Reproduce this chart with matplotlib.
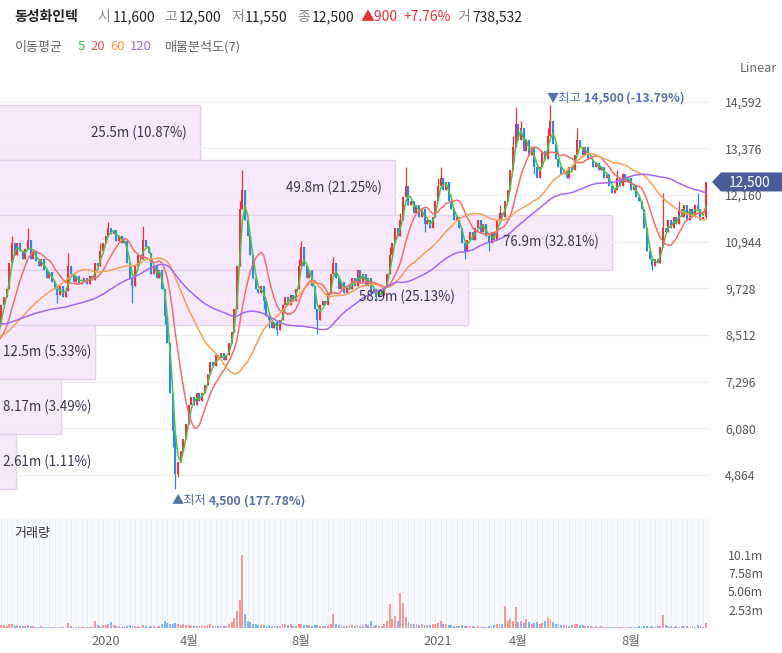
import numpy as np
import pandas as pd
import matplotlib
matplotlib.use('Agg')
import matplotlib.pyplot as plt
from matplotlib.patches import Rectangle, Polygon
import matplotlib.transforms as mtransforms

plt.rcParams['font.family'] = ['Noto Sans CJK KR', 'DejaVu Sans']

# ---------------- data ----------------
stock_name = '동성화인텍'
last_date = '2021-10-27'
krx_holidays = ['2019-01-01', '2019-02-04', '2019-02-05', '2019-02-06', '2019-03-01',
                '2019-05-01', '2019-05-06', '2019-06-06', '2019-08-15', '2019-09-12',
                '2019-09-13', '2019-10-03', '2019-10-09', '2019-12-25', '2019-12-31',
                '2020-01-01', '2020-01-24', '2020-01-27', '2020-04-15', '2020-04-30',
                '2020-05-01', '2020-05-05', '2020-08-17', '2020-09-30', '2020-10-01',
                '2020-10-02', '2020-10-09', '2020-12-25', '2020-12-31', '2021-01-01',
                '2021-02-11', '2021-02-12', '2021-03-01', '2021-05-05', '2021-05-19',
                '2021-08-16', '2021-09-20', '2021-09-21', '2021-09-22', '2021-10-04',
                '2021-10-11']

# closes before the visible window (feed the moving averages)
pre_close = [9400, 9300, 9500, 9200, 9100, 9300, 9400, 9200, 9000, 9100,
             9300, 9200, 9000, 9100, 9200, 9300, 9100, 9000, 9200, 9100,
             9000, 9100, 8900, 9000, 9100, 8900, 9000, 8900, 8800, 8900,
             8800, 8700, 8600, 8700, 8500, 8600, 8400, 8500, 8600, 8500,
             8400, 8600, 8500, 8400, 8500, 8600, 8500, 8400, 8500, 8600,
             8400, 8300, 8200, 8300, 8200, 8300, 8400, 8300, 8500, 8800]

# visible closes (one candle per two trading days)
close = [9300, 9500, 9700, 10400, 10900, 10600, 10900, 10700, 10500, 10750,
         11000, 10500, 10700, 10450, 10300, 10500, 10200, 10000, 10150, 9900,
         9700, 9550, 9800, 9500, 9650, 10300, 10100, 9900, 10050, 9850,
         9900, 10000, 9850, 10050, 9950, 10400, 10300, 10700, 10900, 11100,
         11300, 11150, 11250, 10950, 11100, 10900, 10950, 10400, 10000, 9800,
         10300, 10600, 10500, 11000, 10800, 10650, 10100, 10300, 10000, 10200,
         9700, 9000, 8300, 7000, 6000, 4900, 5200, 5500, 5800, 6200,
         6700, 6900, 6700, 7000, 6800, 7000, 7200, 7500, 7800, 7700,
         8000, 7900, 8050, 7850, 8000, 8300, 8600, 9200, 10300, 11800,
         12300, 11500, 11100, 10600, 10000, 9700, 9600, 9800, 9400, 9000,
         8900, 8700, 8850, 8650, 8900, 9300, 9500, 9300, 9550, 9400,
         9700, 10300, 10800, 10300, 10000, 10200, 9800, 9200, 8900, 9300,
         9400, 9300, 9600, 10100, 10400, 10000, 9700, 9900, 9600, 9800,
         9700, 10000, 9800, 10200, 9900, 10100, 9800, 10000, 9600, 9700,
         9500, 9650, 9550, 9800, 10100, 10600, 10900, 11300, 11100, 11500,
         12100, 12400, 11900, 12000, 11700, 11900, 11600, 11800, 11400, 11500,
         11300, 11600, 12000, 12400, 12600, 12300, 12500, 12000, 11800, 11500,
         11600, 11300, 10900, 10700, 11000, 11200, 11000, 11300, 11500, 11200,
         11400, 11100, 10900, 11200, 11000, 11500, 11700, 11600, 12000, 12300,
         12800, 13400, 14000, 13600, 13900, 13300, 13600, 13200, 13400, 12900,
         12600, 12900, 13300, 13100, 13700, 14100, 13500, 13100, 12900, 12700,
         12800, 12600, 12900, 12800, 13200, 13600, 13400, 13200, 13400, 13100,
         13100, 12900, 13000, 12800, 12900, 12600, 12700, 12400, 12200, 12300,
         12600, 12400, 12700, 12500, 12600, 12300, 12400, 12100, 12000, 11800,
         11300, 10700, 10500, 10300, 10500, 10400, 10800, 11300, 11200, 11500,
         11300, 11600, 11400, 11800, 11600, 11900, 11500, 11800, 11600, 11900,
         11800, 11500, 11600, 12500]

wick_high = {4: 11100, 10: 11300, 25: 10650, 37: 10900, 40: 11450, 53: 11350,
             89: 12000, 90: 12800, 111: 10500, 112: 10950, 124: 10550, 145: 10800,
             149: 11700, 151: 12900, 163: 12600, 164: 12900, 186: 11900,
             191: 13700, 192: 14450, 194: 14100, 204: 13900, 205: 14500,
             215: 13900, 230: 12800, 247: 12200, 253: 12000, 260: 12200}
wick_low = {21: 9350, 49: 9350, 61: 8800, 64: 5600, 65: 4500, 66: 4800, 98: 9200,
            100: 8700, 103: 8500, 118: 8550, 140: 9400, 158: 11200, 173: 10500,
            182: 10700, 199: 12700, 243: 10200, 263: 11550}

# volume in millions of shares
volume_m = [0.45, 0.35, 0.3, 0.6, 0.5, 0.3, 0.4, 0.3, 0.25, 0.3,
            0.4, 0.3, 0.25, 0.2, 0.2, 0.25, 0.2, 0.15, 0.2, 0.15,
            0.15, 0.2, 0.15, 0.2, 0.15, 0.7, 0.3, 0.2, 0.15, 0.2,
            0.15, 0.2, 0.15, 0.2, 0.2, 1.0, 0.4, 0.3, 0.35, 0.4,
            0.5, 0.8, 0.35, 0.3, 0.25, 0.2, 0.25, 0.3, 0.35, 0.3,
            0.25, 0.3, 0.2, 0.4, 0.25, 0.2, 0.3, 0.25, 0.2, 0.3,
            0.5, 1.0, 0.7, 0.6, 0.6, 0.7, 0.5, 0.4, 0.5, 0.35,
            0.4, 0.3, 0.3, 0.25, 0.3, 0.25, 0.3, 0.4, 0.5, 0.3,
            0.35, 0.3, 0.3, 0.25, 0.3, 0.6, 0.8, 1.4, 2.4, 3.9,
            10.1, 2.0, 1.0, 0.8, 0.6, 0.5, 0.4, 0.4, 0.35, 0.3,
            0.35, 0.3, 0.25, 0.3, 0.3, 0.5, 0.6, 0.35, 0.5, 0.3,
            0.3, 0.6, 0.6, 0.4, 0.35, 0.4, 0.3, 0.4, 0.35, 0.3,
            0.25, 0.3, 0.4, 0.6, 1.9, 0.6, 0.4, 0.35, 0.3, 0.25,
            0.3, 0.4, 0.3, 0.35, 0.3, 0.4, 0.5, 0.4, 0.9, 0.3,
            0.35, 0.3, 0.3, 0.5, 1.0, 3.3, 1.2, 1.6, 1.0, 4.8,
            3.4, 1.5, 0.8, 0.6, 0.5, 0.6, 0.4, 0.5, 0.4, 0.35,
            0.4, 0.5, 0.6, 0.7, 0.9, 0.5, 0.6, 0.4, 0.35, 0.3,
            0.3, 0.3, 0.35, 0.3, 0.25, 0.3, 0.25, 0.2, 0.25, 0.2,
            0.25, 0.2, 0.3, 0.25, 0.4, 0.5, 0.6, 0.5, 3.1, 1.0,
            1.3, 0.9, 2.9, 0.8, 1.0, 0.7, 1.3, 0.8, 0.6, 0.7,
            0.8, 0.6, 0.7, 0.9, 1.4, 1.2, 0.8, 0.6, 0.5, 0.45,
            0.4, 0.35, 0.3, 0.4, 0.5, 0.6, 0.4, 0.35, 0.3, 0.25,
            0.25, 0.2, 0.25, 0.2, 0.25, 0.2, 0.2, 0.15, 0.2, 0.15,
            0.2, 0.15, 0.2, 0.15, 0.15, 0.2, 0.15, 0.2, 0.25, 0.2,
            0.3, 0.25, 0.2, 0.25, 0.2, 0.25, 0.3, 1.8, 0.4, 0.3,
            0.25, 0.2, 0.25, 0.2, 0.3, 0.25, 0.3, 0.2, 0.25, 0.2,
            0.35, 0.25, 0.2, 0.738532]

ma_periods = [5, 20, 60, 120]
vp_volume_m = [25.5, 49.8, 76.9, 58.9, 12.5, 8.17, 2.61]     # top bin -> bottom bin
vp_percent = [10.87, 21.25, 32.81, 25.13, 5.33, 3.49, 1.11]
price_ticks = [4864, 6080, 7296, 8512, 9728, 10944, 12160, 13376, 14592]
volume_ticks_m = [2.53, 5.06, 7.58, 10.1]
month_ticks = ['2020-01', '2020-04', '2020-08', '2021-01', '2021-04', '2021-08']
month_labels = ['2020', '4월', '8월', '2021', '4월', '8월']

# ---------------- styles ----------------
UP = '#f0323c'
DOWN = '#2b8ae6'
VOL_UP = '#f49a9a'
VOL_DOWN = '#7fb6f0'
MA_COLORS = ['#4cc24c', '#f26d6d', '#f5a055', '#a668f2']
MA_LABEL_COLORS = ['#3cb43c', '#f0505a', '#f59a40', '#9c6cf0']
BOX_FACE = '#f7e9fb'
BOX_EDGE = '#e4d0ec'
TAG_BLUE = '#4a5d98'
ANNOT = '#5670a8'

W, H = 782, 653
fig = plt.figure(figsize=(W / 100, H / 100), dpi=100)

def fx(px):
    return px / W

def fy(py):
    return 1 - py / H

PLOT_R = 710
ax = fig.add_axes([0, fy(510), fx(PLOT_R), (510 - 80) / H])
axv = fig.add_axes([0, fy(628), fx(PLOT_R), (628 - 518) / H], sharex=ax)

n_pre = len(pre_close)
n = len(close)
assert len(volume_m) == n
all_close = np.array(pre_close + close, dtype=float)
all_idx = np.arange(len(all_close)) - n_pre

# trading calendar: one candle per two trading days, ending on last_date
days = pd.bdate_range(end=last_date, periods=2 * len(all_close), freq='C', holidays=krx_holidays)
cdates = days[1::2][n_pre:]

x = np.arange(n)
o = all_close[n_pre - 1:n_pre - 1 + n]
c = np.array(close, dtype=float)
hi = np.maximum(o, c)
lo = np.minimum(o, c)
for k, v in wick_high.items():
    hi[k] = max(hi[k], v)
for k, v in wick_low.items():
    lo[k] = min(lo[k], v)
up = c >= o
cols = np.where(up, UP, DOWN)

# y mapping: keep the same scale as the reference
ax.set_ylim(3952, 15157)
ax.set_xlim(-0.45, n + 0.55)

# volume profile boxes
pmin, pmax = lo.min(), hi.max()
edges = np.linspace(pmax, pmin, len(vp_volume_m) + 1)
vmax = max(vp_volume_m)
blend = mtransforms.blended_transform_factory(ax.transAxes, ax.transData)
fig.canvas.draw()
renderer = fig.canvas.get_renderer()
for k, (vv, pp) in enumerate(zip(vp_volume_m, vp_percent)):
    top, bot = edges[k], edges[k + 1]
    right = -5 / PLOT_R + (617 / PLOT_R) * vv / vmax
    r = Rectangle((-0.05, bot), right + 0.05, top - bot, transform=blend,
                  facecolor=BOX_FACE, edgecolor=BOX_EDGE, lw=1.0, zorder=0.3)
    ax.add_patch(r)
    label = f'{vv:g}m ({pp:.2f}%)'
    t = ax.text(0, (top + bot) / 2, label, transform=blend, fontsize=9.6,
                color='#3b3352', va='center', ha='left', zorder=5)
    wpx = t.get_window_extent(renderer).width
    if right * PLOT_R - 13 - wpx > 20:
        t.set_x(right - 13 / PLOT_R)
        t.set_ha('right')
    else:
        t.set_x(3 / PLOT_R)

# grid
ax.set_yticks(price_ticks)
ax.set_yticklabels([f'{t:,}' for t in price_ticks])
ax.grid(axis='y', color='#eeeeee', lw=0.9)
for gl in ax.get_ygridlines():
    gl.set_zorder(0.4)
ax.yaxis.tick_right()
ax.tick_params(axis='y', length=0, pad=11, labelsize=8.8, labelcolor='#555555')
ax.tick_params(axis='x', length=0, labelbottom=False)
for s in ax.spines.values():
    s.set_visible(False)
ax.patch.set_alpha(0)

# candles
ax.vlines(x, lo, hi, colors=cols, lw=0.9, zorder=2)
body_h = np.maximum(np.abs(c - o), 30)
ax.bar(x, body_h, bottom=np.minimum(o, c), width=0.74,
       color=cols, linewidth=0, zorder=2.1)

# moving averages
s = pd.Series(all_close)
for p, col in zip(ma_periods, MA_COLORS):
    w = int(np.ceil(p / 2))
    ma = s.rolling(w).mean().values
    ax.plot(all_idx, ma, color=col, lw=1.1, zorder=3, solid_joinstyle='round')

# max / min annotations
imax = int(np.argmax(hi))
imin = int(np.argmin(lo))
last = c[-1]

def rich_text(xpix, ypix, parts):
    cur = xpix
    for txt, weight in parts:
        t = fig.text(fx(cur), ypix / H, txt, fontsize=8.8, color=ANNOT,
                     weight=weight, va='center', ha='left')
        cur = t.get_window_extent(renderer).x1 + 2.5

px, py = ax.transData.transform((imax, hi[imax]))
rich_text(px - 4, py + 7, [('▼최고', 'normal'), (f'{int(hi[imax]):,}', 'bold'),
                           (f'({(last - hi[imax]) / hi[imax] * 100:.2f}%)', 'bold')])
px, py = ax.transData.transform((imin, lo[imin]))
rich_text(px - 4, py - 12, [('▲최저', 'normal'), (f'{int(lo[imin]):,}', 'bold'),
                            (f'({(last - lo[imin]) / lo[imin] * 100:.2f}%)', 'bold')])

# last price tag
_, ty = ax.transData.transform((0, last))
tyy = H - ty
tag = Polygon([(fx(712), fy(tyy)), (fx(721), fy(tyy - 9.5)), (fx(782), fy(tyy - 9.5)),
               (fx(782), fy(tyy + 9.5)), (fx(721), fy(tyy + 9.5))],
              closed=True, transform=fig.transFigure, facecolor=TAG_BLUE,
              edgecolor='none', zorder=10)
fig.patches.append(tag)
fig.text(fx(750), fy(tyy), f'{int(last):,}', color='white', fontsize=9.8,
         ha='center', va='center', zorder=11)

# volume pane
axv.set_facecolor('#f8f9fd')
for k in range(0, n, 2):
    axv.axvline(k, color='#eceff8', lw=0.7, zorder=0.2)
vcols = np.where(up, VOL_UP, VOL_DOWN)
axv.bar(x, volume_m, width=0.7, color=vcols, linewidth=0, zorder=2)
axv.set_ylim(0, 15.2)
axv.set_yticks(volume_ticks_m)
axv.set_yticklabels([f'{v:g}m' for v in volume_ticks_m])
axv.yaxis.tick_right()
axv.tick_params(axis='y', length=0, pad=13, labelsize=8.8, labelcolor='#555555')
tick_idx = [int(np.argmax(cdates >= pd.Timestamp(m + '-01'))) for m in month_ticks]
axv.set_xticks(tick_idx)
axv.set_xticklabels(month_labels)
axv.tick_params(axis='x', length=0, pad=5, labelsize=9.2, labelcolor='#666666')
for s_ in axv.spines.values():
    s_.set_visible(False)
axv.text(14 / PLOT_R, 1 - 15 / 110, '거래량', transform=axv.transAxes, fontsize=9.4,
         color='#333333', va='center', ha='left')

# header
hy = 17
fig.text(fx(14.5), fy(hy), stock_name, fontsize=10, weight='bold', color='#222222', va='center')
prev = all_close[-2]
chg = last - prev
hdr = [(97, '시', '#888888'), (113, f'{int(o[-1]):,}', '#222222'),
       (164.5, '고', '#888888'), (179, f'{int(hi[-1]):,}', '#222222'),
       (231, '저', '#888888'), (245, f'{int(lo[-1]):,}', '#222222'),
       (297, '종', '#888888'), (312, f'{int(last):,}', '#222222'),
       (361, f'▲{int(chg)}', '#e8303a'), (403, f'+{chg / prev * 100:.2f}%', '#e8303a'),
       (457, '거', '#888888'), (472, f'{int(round(volume_m[-1] * 1e6)):,}', '#222222')]
for xp, txt, col in hdr:
    fig.text(fx(xp), fy(hy), txt, fontsize=10, color=col, va='center', weight='medium')

ly = 47
fig.text(fx(14.5), fy(ly), '이동평균', fontsize=9.4, color='#666666', va='center')
for xp, p, col in zip([77.6, 90, 110, 130], ma_periods, MA_LABEL_COLORS):
    fig.text(fx(xp), fy(ly), str(p), fontsize=9.4, color=col, va='center')
fig.text(fx(165), fy(ly), f'매물분석도({len(vp_volume_m)})', fontsize=9.4, color='#666666', va='center')
fig.text(fx(740), fy(68), 'Linear', fontsize=9.2, color='#666666', va='center')

fig.savefig('out.png', dpi=100)
